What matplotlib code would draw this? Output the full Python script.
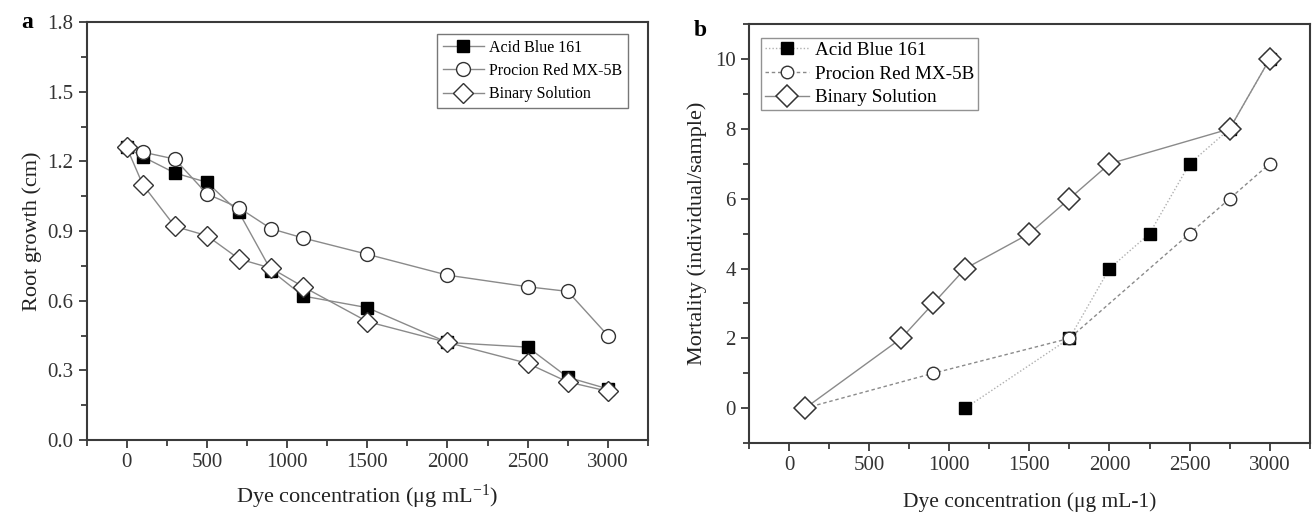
import matplotlib
matplotlib.use("Agg")
import matplotlib.pyplot as plt
from matplotlib.ticker import MultipleLocator

plt.rcParams['font.family'] = ['Liberation Serif', 'DejaVu Serif']
plt.rcParams['mathtext.fontset'] = 'custom'
plt.rcParams['mathtext.rm'] = 'Liberation Serif'
plt.rcParams['mathtext.it'] = 'Liberation Serif'

# panel a: root growth
conc_a = [0, 100, 300, 500, 700, 900, 1100, 1500, 2000, 2500, 2750, 3000]
acid_a = [1.26, 1.22, 1.15, 1.11, 0.98, 0.73, 0.62, 0.57, 0.42, 0.40, 0.27, 0.22]
procion_a = [1.26, 1.24, 1.21, 1.06, 1.00, 0.91, 0.87, 0.80, 0.71, 0.66, 0.64, 0.45]
binary_a = [1.26, 1.10, 0.92, 0.88, 0.78, 0.74, 0.66, 0.51, 0.42, 0.33, 0.25, 0.21]

# panel b: mortality
acid_x = [1100, 1750, 2000, 2250, 2500, 2750, 3000]
acid_b = [0, 2, 4, 5, 7, 8, 10]
procion_x = [100, 900, 1750, 2500, 2750, 3000]
procion_b = [0, 1, 2, 5, 6, 7]
binary_x = [100, 700, 900, 1100, 1500, 1750, 2000, 2750, 3000]
binary_b = [0, 2, 3, 4, 5, 6, 7, 8, 10]

names = ['Acid Blue 161', 'Procion Red MX-5B', 'Binary Solution']

line_col = '#8a8a8a'
spine_col = '#3a3a3a'

fig = plt.figure(figsize=(13.13, 5.14), dpi=100)
axa = fig.add_axes([0.066, 0.144, 0.4275, 0.813])
axb = fig.add_axes([0.5705, 0.138, 0.427, 0.815])


def style_axes(ax):
    for s in ax.spines.values():
        s.set_color(spine_col)
        s.set_linewidth(1.5)
    ax.tick_params(which='major', direction='out', length=6, width=1.3,
                   color=spine_col, labelsize=15, labelcolor='#333333')
    ax.tick_params(which='minor', direction='out', length=4, width=1.3,
                   color=spine_col)
    ax.tick_params(top=False, right=False, which='both')


# ---- panel a
axa.plot(conc_a, acid_a, '-s', color=line_col, lw=1, ms=9, mfc='black',
         mec='black', label=names[0], zorder=3)
axa.plot(conc_a, procion_a, '-o', color=line_col, lw=1, ms=10, mfc='white',
         mec='#333333', mew=1, label=names[1], zorder=3)
axa.plot(conc_a, binary_a, '-D', color=line_col, lw=1, ms=10, mfc='white',
         mec='#333333', mew=1, label=names[2], zorder=4)
axa.set_xlim(-250, 3250)
axa.set_ylim(0, 1.8)
axa.xaxis.set_major_locator(MultipleLocator(500))
axa.xaxis.set_minor_locator(MultipleLocator(250))
axa.yaxis.set_major_locator(MultipleLocator(0.3))
axa.yaxis.set_minor_locator(MultipleLocator(0.15))
axa.yaxis.set_major_formatter(plt.FormatStrFormatter('%.1f'))
style_axes(axa)
axa.set_ylabel('Root growth (cm)', fontsize=16, color='#222222', labelpad=4)
axa.set_xlabel('Dye concentration (μg mL$^{-1}$)', fontsize=16,
               color='#222222', labelpad=8)
leg = axa.legend(loc='upper right', bbox_to_anchor=(0.978, 0.99), fontsize=11.5,
                 frameon=True, fancybox=False, edgecolor='#555555',
                 handlelength=2.6, borderpad=0.35, labelspacing=0.45,
                 handletextpad=0.3)
leg.get_frame().set_linewidth(1.0)
fig.text(0.016, 0.945, 'a', fontsize=17, fontweight='bold')

# ---- panel b
axb.plot(acid_x, acid_b, 's', color='#b0b0b0', ls=(0, (1, 1.5)), lw=1, ms=9,
         mfc='black', mec='black', label=names[0], zorder=3)
axb.plot(procion_x, procion_b, 'o', color='#8a8a8a', ls=(0, (2.5, 2)), lw=1,
         ms=9, mfc='white', mec='#333333', mew=1, label=names[1], zorder=3)
axb.plot(binary_x, binary_b, '-D', color=line_col, lw=1, ms=11, mfc='white',
         mec='#333333', mew=1.1, label=names[2], zorder=4)
axb.set_xlim(-250, 3250)
axb.set_ylim(-1, 11)
axb.xaxis.set_major_locator(MultipleLocator(500))
axb.xaxis.set_minor_locator(MultipleLocator(250))
axb.yaxis.set_major_locator(MultipleLocator(2))
axb.yaxis.set_minor_locator(MultipleLocator(1))
style_axes(axb)
axb.set_ylabel('Mortality (individual/sample)', fontsize=16, color='#222222',
               labelpad=6)
axb.set_xlabel('Dye concentration (μg mL-1)', fontsize=15.5, color='#222222',
               labelpad=12)
legb = axb.legend(loc='upper left', bbox_to_anchor=(0.004, 0.99), fontsize=13.8,
                  frameon=True, fancybox=False, edgecolor='#777777',
                  handlelength=2.3, borderpad=0.2, labelspacing=0.32,
                  handletextpad=0.3)
legb.get_frame().set_linewidth(1.0)
fig.text(0.528, 0.93, 'b', fontsize=17, fontweight='bold')

fig.savefig('out.png', dpi=100)
